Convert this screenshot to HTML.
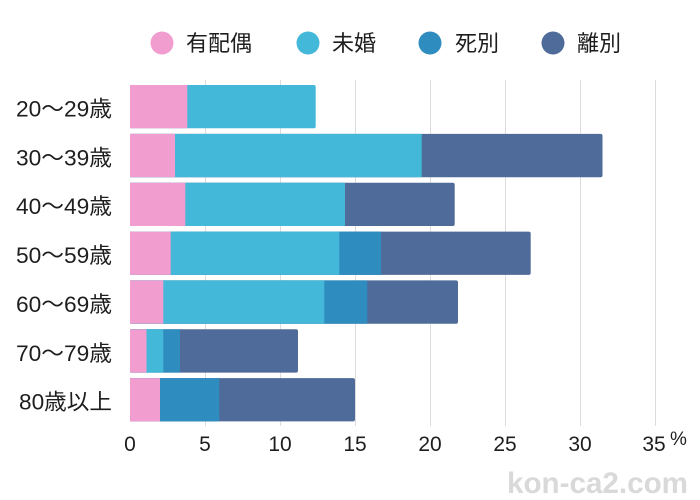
<!DOCTYPE html>
<html><head><meta charset="utf-8">
<style>
html,body{margin:0;padding:0;background:#fff;}
svg{display:block;}
text{font-family:"Liberation Sans","Noto Sans CJK JP",sans-serif;fill:#1e1e1e;}
</style></head>
<body>
<svg width="700" height="500" viewBox="0 0 700 500" xmlns="http://www.w3.org/2000/svg">
<rect width="700" height="500" fill="#fff"/>
<!-- legend -->
<circle cx="162" cy="43" r="11.5" fill="#F29DD0"/>
<text x="186" y="51" font-size="22">有配偶</text>
<circle cx="308" cy="43" r="11.5" fill="#43B8D8"/>
<text x="332" y="51" font-size="22">未婚</text>
<circle cx="430" cy="43" r="11.5" fill="#2E8CBE"/>
<text x="455" y="51" font-size="22">死別</text>
<circle cx="553" cy="43" r="11.5" fill="#4F6B9A"/>
<text x="577" y="51" font-size="22">離別</text>

<!-- grid -->
<g stroke="#dcdcdc" stroke-width="1">
<line x1="205.5" y1="80" x2="205.5" y2="426"/>
<line x1="280.5" y1="80" x2="280.5" y2="426"/>
<line x1="355.5" y1="80" x2="355.5" y2="426"/>
<line x1="430.5" y1="80" x2="430.5" y2="426"/>
<line x1="505.5" y1="80" x2="505.5" y2="426"/>
<line x1="580.5" y1="80" x2="580.5" y2="426"/>
<line x1="655.5" y1="80" x2="655.5" y2="426"/>
</g>

<!-- bars -->
<!-- 1 -->
<rect x="130" y="85" width="185.7" height="43.3" rx="2" fill="#43B8D8"/>
<rect x="130" y="85" width="57.3" height="43.3" fill="#F29DD0"/>
<!-- 2 -->
<rect x="130" y="133.9" width="472.5" height="43.3" rx="2" fill="#4F6B9A"/>
<rect x="130" y="133.9" width="291.7" height="43.3" fill="#43B8D8"/>
<rect x="130" y="133.9" width="45" height="43.3" fill="#F29DD0"/>
<!-- 3 -->
<rect x="130" y="182.7" width="324.7" height="43.3" rx="2" fill="#4F6B9A"/>
<rect x="130" y="182.7" width="215" height="43.3" fill="#43B8D8"/>
<rect x="130" y="182.7" width="55.3" height="43.3" fill="#F29DD0"/>
<!-- 4 -->
<rect x="130" y="231.6" width="400.7" height="43.3" rx="2" fill="#4F6B9A"/>
<rect x="130" y="231.6" width="251" height="43.3" fill="#2E8CBE"/>
<rect x="130" y="231.6" width="209.3" height="43.3" fill="#43B8D8"/>
<rect x="130" y="231.6" width="40.7" height="43.3" fill="#F29DD0"/>
<!-- 5 -->
<rect x="130" y="280.4" width="328" height="43.3" rx="2" fill="#4F6B9A"/>
<rect x="130" y="280.4" width="237.3" height="43.3" fill="#2E8CBE"/>
<rect x="130" y="280.4" width="194.3" height="43.3" fill="#43B8D8"/>
<rect x="130" y="280.4" width="33.3" height="43.3" fill="#F29DD0"/>
<!-- 6 -->
<rect x="130" y="329.3" width="168" height="43.3" rx="2" fill="#4F6B9A"/>
<rect x="130" y="329.3" width="50" height="43.3" fill="#2E8CBE"/>
<rect x="130" y="329.3" width="33.3" height="43.3" fill="#43B8D8"/>
<rect x="130" y="329.3" width="16.5" height="43.3" fill="#F29DD0"/>
<!-- 7 -->
<rect x="130" y="378.1" width="225" height="43.3" rx="2" fill="#4F6B9A"/>
<rect x="130" y="378.1" width="89.3" height="43.3" fill="#2E8CBE"/>
<rect x="130" y="378.1" width="30" height="43.3" fill="#F29DD0"/>

<!-- y labels -->
<g font-size="22">
<text x="16" y="116.5" textLength="96" lengthAdjust="spacingAndGlyphs">20〜29歳</text>
<text x="16" y="165.4" textLength="96" lengthAdjust="spacingAndGlyphs">30〜39歳</text>
<text x="16" y="214.2" textLength="96" lengthAdjust="spacingAndGlyphs">40〜49歳</text>
<text x="16" y="263.1" textLength="96" lengthAdjust="spacingAndGlyphs">50〜59歳</text>
<text x="16" y="311.9" textLength="96" lengthAdjust="spacingAndGlyphs">60〜69歳</text>
<text x="16" y="360.8" textLength="96" lengthAdjust="spacingAndGlyphs">70〜79歳</text>
<text x="19" y="409.6" textLength="93" lengthAdjust="spacingAndGlyphs">80歳以上</text>
</g>

<!-- x labels -->
<g font-size="21" text-anchor="middle">
<text x="130" y="451">0</text>
<text x="205" y="451">5</text>
<text x="280" y="451">10</text>
<text x="355" y="451">15</text>
<text x="430" y="451">20</text>
<text x="505" y="451">25</text>
<text x="580" y="451">30</text>
<text x="654" y="451">35</text>
</g>
<text x="670" y="445" font-size="19">%</text>

<!-- watermark -->
<text x="507" y="493" font-size="30" font-weight="bold" style="fill:#d9d9d9" textLength="181" lengthAdjust="spacingAndGlyphs">kon-ca2.com</text>
</svg>
</body></html>
